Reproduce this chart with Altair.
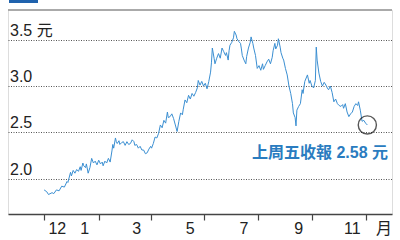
import altair as alt
import pandas as pd

# ---- data ----
# day offsets from 2016-12-01 and closing prices (HK$)
day_offsets = [0, 3, 5, 9, 11, 14, 17, 20, 23, 26, 27, 30, 31, 33, 35, 37, 39, 41, 42, 44,
               45, 47, 48, 50, 52, 54, 56, 58, 60, 62, 64, 66, 67, 69, 71, 73, 75, 77, 78, 79,
               81, 82, 83, 85, 86, 88, 90, 92, 94, 96, 98, 100, 102, 103, 105, 107, 109, 111, 113, 115,
               117, 119, 121, 122, 124, 126, 128, 130, 132, 134, 136, 138, 140, 141, 143, 145, 147, 149, 151, 153,
               155, 157, 158, 160, 162, 164, 166, 168, 170, 172, 174, 175, 177, 179, 181, 183, 185, 187, 189, 190,
               191, 193, 194, 196, 198, 200, 202, 204, 206, 207, 209, 210, 211, 213, 215, 216, 218, 219, 221, 223,
               224, 225, 227, 229, 230, 232, 234, 235, 237, 238, 240, 242, 244, 246, 248, 249, 251, 253, 255, 257,
               259, 260, 262, 263, 265, 266, 268, 269, 271, 272, 274, 276, 278, 280, 282, 283, 285, 286, 287, 289,
               291, 293, 294, 296, 299, 301, 302, 304, 306, 308, 309, 310, 312, 314, 316, 318, 320, 322, 323, 325,
               327, 329, 331, 333, 335, 337, 339, 340, 342, 344, 346, 348, 350, 352, 354, 356, 357, 359, 361, 363,
               365, 367]
prices = [1.88, 1.86, 1.83, 1.85, 1.84, 1.88, 1.87, 1.92, 1.91, 1.97, 1.96, 2.07, 2.03, 2.09, 2.06, 2.10, 2.08, 2.13, 2.09, 2.17,
          2.14, 2.12, 2.16, 2.06, 2.12, 2.22, 2.17, 2.19, 2.15, 2.20, 2.16, 2.18, 2.14, 2.19, 2.17, 2.22, 2.18, 2.30, 2.37, 2.33,
          2.44, 2.40, 2.38, 2.41, 2.37, 2.39, 2.40, 2.36, 2.40, 2.37, 2.38, 2.42, 2.40, 2.36, 2.37, 2.33, 2.35, 2.31, 2.31, 2.27,
          2.28, 2.32, 2.35, 2.33, 2.38, 2.45, 2.44, 2.49, 2.58, 2.55, 2.63, 2.60, 2.72, 2.66, 2.67, 2.70, 2.65, 2.58, 2.51, 2.62,
          2.71, 2.69, 2.75, 2.85, 2.82, 2.90, 2.86, 2.92, 2.89, 2.93, 2.98, 3.06, 3.01, 3.05, 3.00, 3.03, 2.97, 3.05, 3.15, 3.25,
          3.41, 3.30, 3.24, 3.30, 3.35, 3.30, 3.41, 3.37, 3.33, 3.36, 3.28, 3.38, 3.44, 3.47, 3.52, 3.59, 3.55, 3.51, 3.48, 3.46,
          3.40, 3.33, 3.28, 3.24, 3.32, 3.41, 3.47, 3.53, 3.46, 3.41, 3.33, 3.19, 3.22, 3.17, 3.24, 3.18, 3.22, 3.26, 3.29, 3.24,
          3.31, 3.38, 3.46, 3.40, 3.44, 3.51, 3.42, 3.36, 3.30, 3.28, 3.19, 3.12, 3.00, 2.92, 2.81, 2.71, 2.66, 2.57, 2.74, 2.78,
          2.81, 2.96, 2.92, 3.05, 3.12, 3.03, 3.06, 3.00, 2.98, 3.06, 3.42, 3.28, 3.14, 3.05, 3.00, 3.04, 3.01, 2.97, 2.96, 3.00,
          2.93, 2.83, 2.86, 2.81, 2.79, 2.78, 2.80, 2.76, 2.81, 2.72, 2.67, 2.70, 2.72, 2.78, 2.81, 2.79, 2.83, 2.74, 2.62, 2.63,
          2.60, 2.58]

y_ticks = [2.0, 2.5, 3.0, 3.5]
y_tick_labels = ["2.0", "2.5", "3.0", "3.5 元"]

month_starts = ["2016-12-01", "2017-01-01", "2017-02-01", "2017-03-01", "2017-04-01", "2017-05-01",
                "2017-06-01", "2017-07-01", "2017-08-01", "2017-09-01", "2017-10-01", "2017-11-01",
                "2017-12-01"]
month_label_dates = ["2016-12-16", "2017-01-16", "2017-03-16", "2017-05-16", "2017-07-16",
                     "2017-09-16", "2017-11-16", "2017-12-22"]
month_labels = ["12", "1", "3", "5", "7", "9", "11", "月"]

annotation = "上周五收報 2.58 元"

# ---- build tables ----
base_date = pd.Timestamp("2016-12-01")
df = pd.DataFrame({
    "date": [base_date + pd.Timedelta(days=d) for d in day_offsets],
    "price": prices,
})
last_df = df.tail(1)
ylab_df = pd.DataFrame({"v": y_ticks, "label": y_tick_labels})
mlab_df = pd.DataFrame({"date": pd.to_datetime(month_label_dates), "label": month_labels})

FONT = "Liberation Sans, Noto Sans CJK TC, sans-serif"
x_scale = alt.Scale(domain=[pd.Timestamp("2016-10-21").isoformat(), pd.Timestamp("2017-12-31").isoformat()])
y_scale = alt.Scale(domain=[1.62, 3.82], nice=False, zero=False)

line = alt.Chart(df).mark_line(color="#3b8fd2", strokeWidth=1).encode(
    x=alt.X("date:T", scale=x_scale,
            axis=alt.Axis(values=[pd.Timestamp(m).isoformat() for m in month_starts],
                          labels=False, title=None, grid=False,
                          domainColor="#444444", domainWidth=1.5,
                          tickColor="#444444", tickSize=6, tickWidth=1.2)),
    y=alt.Y("price:Q", scale=y_scale,
            axis=alt.Axis(values=y_ticks, labels=False, ticks=False, domain=False, title=None,
                          grid=True, gridColor="#555555", gridDash=[1, 1.5], gridWidth=1)),
)

ylabels = alt.Chart(ylab_df).mark_text(align="left", baseline="alphabetic", dy=-4,
                                       font=FONT, fontSize=16, color="#222222").encode(
    x=alt.value(2),
    y=alt.Y("v:Q", scale=y_scale),
    text="label:N",
)

mlabels = alt.Chart(mlab_df).mark_text(align="center", baseline="alphabetic",
                                       font=FONT, fontSize=16, color="#222222").encode(
    x=alt.X("date:T", scale=x_scale),
    y=alt.value(224),
    text="label:N",
)

circle = alt.Chart(last_df).mark_point(shape="circle", size=330, filled=False,
                                       color="#111111", strokeWidth=1.4).encode(
    x=alt.X("date:T", scale=x_scale),
    y=alt.Y("price:Q", scale=y_scale),
)

note = alt.Chart(last_df).mark_text(align="right", baseline="alphabetic", font=FONT,
                                    fontSize=16, fontWeight="bold", color="#2a7cc0").encode(
    x=alt.value(380),
    y=alt.value(148),
    text=alt.value(annotation),
)

top_rule = alt.Chart(last_df).mark_rule(color="#aaaaaa", strokeWidth=2).encode(
    x=alt.value(0), x2=alt.value(384), y=alt.value(0)
)

logo = alt.Chart(last_df).mark_rule(color="#1f62ad", strokeWidth=6).encode(
    x=alt.value(1), x2=alt.value(30), y=alt.value(-10)
)

chart = alt.layer(top_rule, logo, line, ylabels, mlabels, circle, note).properties(
    width=384, height=204,
    padding={"left": 8, "top": 10, "right": 8, "bottom": 26},
    autosize=alt.AutoSizeParams(type="none"),
).configure_view(stroke=None).configure(background="white")

chart.save("out.html", embed_options={"renderer": "svg", "actions": False})
